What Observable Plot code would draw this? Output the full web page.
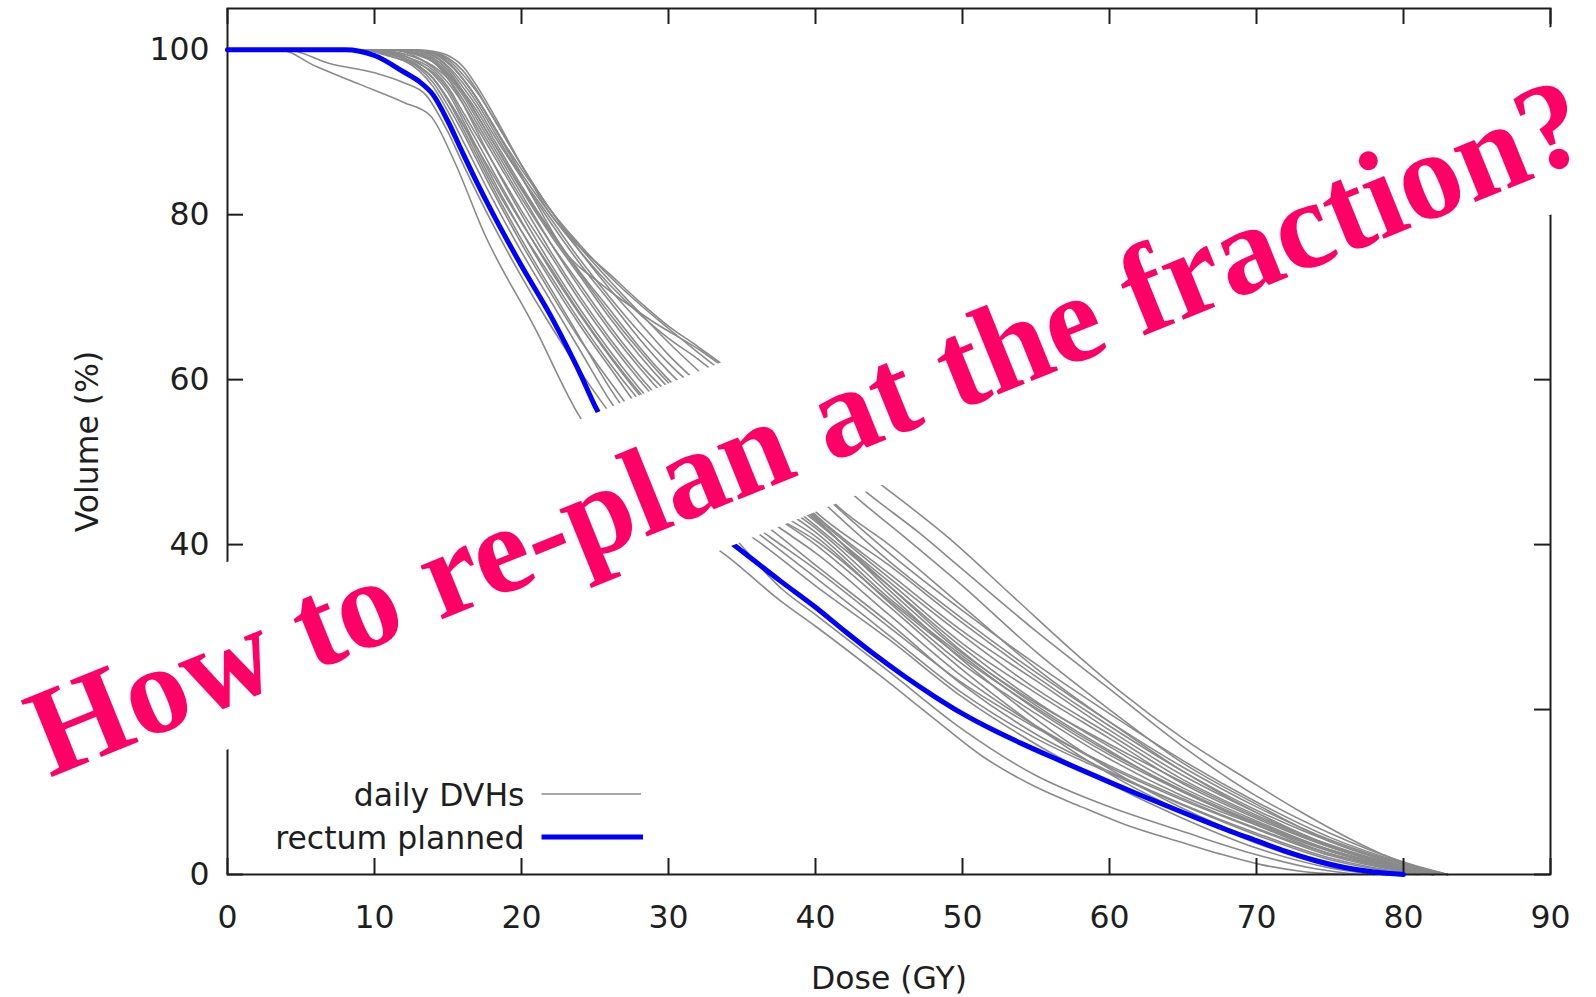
<!DOCTYPE html>
<html>
<head>
<meta charset="utf-8">
<script src="https://cdn.jsdelivr.net/npm/d3@7"></script>
<script src="https://cdn.jsdelivr.net/npm/@observablehq/plot@0.6"></script>
<style>
  html, body { margin: 0; padding: 0; background: #ffffff; overflow: hidden; }
  #chart { width: 1596px; height: 997px; }
</style>
</head>
<body>
<div id="chart"></div>
<script>
// ---------- data ----------
const xTicks = [0, 10, 20, 30, 40, 50, 60, 70, 80, 90];
const yTicks = [0, 20, 40, 60, 80, 100];
const xLabel = "Dose (GY)";
const yLabel = "Volume (%)";
const legendLabels = ["daily DVHs", "rectum planned"];
const annotationText = ["How to re-plan at the fraction?"];

// planned rectum DVH: [dose (Gy), volume (%)]
const planned = [[0,100],[8,100],[10,99.3],[12,97.3],[13,96.2],[14,94.5],[15,91.3],[16,87.5],[17,83.8],[18,80.3],[20,73.8],[22,67.7],[23,64.3],[24,60.7],[25,56.8],[27,51],[30,46],[34.5,39.9],[37.6,35.6],[40,32.4],[42,29.5],[44,26.7],[46,24.1],[48,21.7],[50,19.5],[52,17.6],[54,15.9],[56,14.3],[58,12.75],[60,11.2],[62,9.7],[64,8.25],[66,6.8],[68,5.4],[70,4.1],[72,2.8],[74,1.7],[76,0.85],[78,0.3],[80,0]];

// daily DVHs: [dose (Gy), volume (%)]
const day01 = [[0,100],[3.5,100],[6,98],[9,95.8],[12,93.6],[13.8,92],[15.4,86.6],[17.5,77.6],[20.9,66.3],[24,55.4],[27,49],[31,42.5],[34.2,38.3],[37.6,33.2],[40,30.1],[44.4,24.1],[48,19],[51.3,14.4],[55,10.6],[58.1,8.2],[61,6.1],[64.9,3.9],[67.5,2.5],[70.3,1.2],[73,0.4],[76,0]];
const day02 = [[0,100],[4,100],[7,98.3],[10,97.2],[12,96],[13.5,94.5],[15,90],[16,86.2],[18,79],[20,72.5],[22,66.5],[24,61],[26,56],[29,50.5],[32,45.5],[34.5,40.8],[37.6,34.8],[40,31.5],[45,24.6],[50,17.6],[55,12.0],[60,8.2],[65,5.2],[70,2.4],[74,0.7],[77,0]];
const day03 = [[0,100],[9,100],[11,99.3],[13,97.5],[14,95.5],[15,92.5],[16,89],[17,85.5],[18,82],[20,75.5],[22,69.5],[24,63.5],[26,57.5],[28,52.5],[30,48.5],[33,44],[36,40.5],[40,35],[45,28.5],[50,21.5],[55,15.8],[60,11],[65,6.8],[70,3.2],[75,0.8],[78,0]];
const day04 = [[0,100],[9,100],[11,99.5],[13,98],[14,96.5],[15,93.8],[16,90.5],[17,87],[18,83.5],[20,77],[22,71],[24,65],[26,59],[28,54],[30,50],[33,45.5],[36.3,41.1],[40,36],[45,29],[50,22],[55,16.5],[60,12.3],[65,8.4],[70,4.8],[75,1.8],[80,0.2],[81,0]];
const day05 = [[0,100],[10,100],[12,99.3],[14,97],[15,94.8],[16,91.5],[17,88],[18,84.5],[20,78],[22,72],[24,66.5],[26,61.5],[28,56.5],[30,52],[33,47],[37.2,41.5],[40,37.5],[45,30.5],[50,23],[55,17],[60,12.5],[65,8.5],[70,5],[75,2],[80,0.3],[82,0]];
const day06 = [[0,100],[10,100],[12,99],[14,96.5],[15,94],[16,91],[17,87.5],[18,84],[20,78],[22,72.5],[24,67],[26,62],[28,57.5],[30,53.5],[33,48.5],[36,44],[38,41.5],[40,39],[45,31.5],[50,24],[55,18],[60,13],[65,9],[70,5.5],[75,2.3],[80,0.4],[82,0]];
const day07 = [[0,100],[9,100],[11,99.5],[13,98],[14,96.5],[15,94],[16,91],[17,88],[18,85],[20,79],[22,73.5],[24,68],[26,63],[28,58.5],[30,54.5],[33,49.5],[36,45],[40,40],[45,32.5],[50,24.8],[55,18],[60,12.2],[65,7.6],[70,3.8],[75,1.0],[78,0]];
const day08 = [[0,100],[11,100],[13,99.3],[14,98.5],[15,96.5],[16,93.5],[17,90],[18,86.5],[20,80],[22,74],[24,68.5],[26,63.5],[28,59],[30,55],[33,50],[36,45.5],[40,41],[45,33],[50,25.5],[55,19.5],[60,14],[65,9.5],[70,6],[75,2.8],[80,0.6],[83,0]];
const day09 = [[0,100],[10,100],[12,99.2],[14,97.5],[15,95.5],[16,92.5],[17,89.5],[18,86.5],[20,80.5],[22,75],[24,69.5],[26,64.5],[28,60],[30,56],[33,51],[36,46.5],[40,41.5],[45,33.5],[50,26.5],[55,20],[60,14.5],[65,10],[70,6],[75,2.5],[80,0.5],[82,0]];
const day10 = [[0,100],[11,100],[13,99],[14,97.8],[15,96],[16,93.5],[17,90.5],[18,87.5],[20,81.5],[22,75.5],[24,70],[26,65],[28,60.5],[30,56.5],[33,51.5],[36,47],[40,42],[45,34],[50,26],[55,18.8],[60,12.8],[65,8],[70,4.2],[75,1.3],[79,0]];
const day11 = [[0,100],[11,100],[13,99.5],[14,98.5],[15,96.8],[16,94.5],[17,91.5],[18,88.5],[20,82.5],[22,76.5],[24,71],[26,66],[28,61.5],[30,57.5],[33,52.5],[36,48],[40,42.3],[45,35],[50,27.5],[55,21],[60,15.5],[65,10.5],[70,6.5],[75,3],[80,0.8],[83,0]];
const day12 = [[0,100],[10,100],[12,99.5],[14,98],[15,96.5],[16,94],[17,91],[18,88],[20,82],[22,76.5],[24,71.5],[26,66.5],[28,62],[30,58.3],[33,53.5],[36,48.5],[40,42.8],[45,35.5],[50,28],[55,22],[60,16.5],[65,11],[70,6.8],[75,3.3],[80,0.8],[83,0]];
const day13 = [[0,100],[11,100],[13,99.6],[14,99],[15,97.5],[16,95],[17,92],[18,89],[20,83],[22,77.5],[24,72.5],[26,67.5],[28,63],[30,59],[33,54],[36,49],[40,43],[45,35],[50,27],[55,20.5],[60,15],[65,10],[70,6.2],[75,3],[80,0.7],[82,0]];
const day14 = [[0,100],[11,100],[13,99.5],[14,98.8],[15,97.2],[16,95],[17,92.5],[18,89.5],[20,83.5],[22,78],[24,73],[26,68.5],[28,64],[30,60],[33,55],[36,50],[40,43.4],[45,36],[50,29],[55,22.5],[60,17],[65,11.5],[70,7.2],[75,3.6],[80,1],[83,0]];
const day15 = [[0,100],[12,100],[14,99.3],[15,98],[16,96],[17,93.5],[18,90.5],[20,84.5],[22,79],[24,74],[26,69.5],[28,65],[30,61],[33,56],[36,51],[40,43.6],[45,36.5],[50,29.5],[55,23.5],[60,17.5],[65,12],[70,7.5],[75,3.5],[80,0.9],[82,0]];
const day16 = [[0,100],[12,100],[14,99.2],[15,97.8],[16,95.5],[17,93],[18,90],[20,84.5],[22,79.5],[24,74.5],[26,70],[28,65.8],[30,62],[33,57],[36,51.5],[40,44],[45,37.5],[50,30.5],[55,24],[60,18],[65,12.5],[70,7.8],[75,4],[80,1.2],[83,0]];
const day17 = [[0,100],[12,100],[14,99.5],[15,98.5],[16,96.5],[17,94],[18,91],[20,85.5],[22,80.5],[24,75.5],[26,71],[28,67],[30,63],[33,58],[36,53],[40,46],[45,38],[50,31],[55,24.5],[60,18.5],[65,13],[70,8.2],[75,4.2],[80,1.3],[83,0]];
const day18 = [[0,100],[12,100],[14,99.6],[15,98.8],[16,97],[17,94.8],[18,92],[20,86],[22,80.5],[24,76],[26,72],[28,68.2],[30,64.5],[33,59.5],[36,54.5],[40,47],[45,39],[50,32],[55,25.5],[60,19.5],[65,13.8],[70,8.8],[75,4.5],[80,1.4],[83,0]];
const day19 = [[0,100],[12,100],[14,99.6],[15,98.5],[16,96.5],[17,94],[18,91],[20,85],[22,80],[24,75.5],[26,71.5],[28,68],[30,65],[32,62.5],[35,58],[38,52],[41.3,45],[45,40],[50,32.5],[55,25],[60,18.5],[65,12.5],[70,7.5],[75,3.5],[80,0.8],[82,0]];
const day20 = [[0,100],[12,100],[14,99.7],[15,99],[16,97.5],[17,95],[18,92],[20,86],[22,80.5],[24,76.3],[26,72.5],[28,69.2],[30,66.2],[32,63.3],[35,59],[38,54],[42.6,46],[46,41],[50,35],[55,27],[60,20],[65,13.5],[70,8.5],[75,4],[80,1],[82,0]];
const day21 = [[0,100],[13,100],[14,99.8],[15,99.3],[16,98],[17,95.5],[18,92.5],[20,86],[22,80],[24,76],[26,72.8],[28,69.5],[30,66.5],[32,64],[35,60],[38,55],[43.5,46.3],[47,41.5],[50,37],[55,29.5],[60,22.5],[65,15.5],[70,9.5],[75,5],[80,1.5],[83,0]];
const day22 = [[0,100],[12,100],[14,99.5],[15.4,97.7],[17,94],[18.6,89.3],[20.9,81.7],[23.1,75.2],[25.4,71.6],[28.8,67.2],[32.2,63.5],[36,58.5],[40,53],[44.5,47.2],[49,40.9],[53.5,33.6],[58,26.3],[61,21.8],[65,16.5],[69.5,11.4],[73,7.6],[78.5,2.5],[82,0.3],[83,0]];
const day23 = [[0,100],[10,100],[12,99],[14,97.2],[15,95.2],[16,92],[17,88.8],[18,85.5],[20,79.2],[22,73.2],[24,67.8],[26,62.8],[28,58.2],[30,54.2],[33,49.2],[36,44.8],[40,40.5],[45,33.2],[50,26.2],[55,20.2],[60,14.8],[65,10.2],[70,6.3],[75,2.9],[80,0.6],[82,0]];
const day24 = [[0,100],[11,100],[13,99.4],[14,98.6],[15,97],[16,94.8],[17,92],[18,89],[20,83.2],[22,77.8],[24,72.8],[26,68],[28,63.6],[30,59.6],[33,54.5],[36,49.5],[40,43.2],[45,34.5],[50,26.8],[55,20.8],[60,15.8],[65,11.2],[70,7],[75,3.4],[80,0.9],[83,0]];
const day25 = [[0,100],[9,100],[11,99.2],[13,97.8],[14,96],[15,93.2],[16,90],[17,86.5],[18,83],[20,76.5],[22,70.5],[24,64.8],[26,59.8],[28,55],[30,51],[33,46],[37,40.8],[40,37],[45,30],[50,23.2],[55,17.8],[60,13.2],[65,9.2],[70,5.6],[75,2.5],[80,0.5],[81,0]];

const dailyDVHs = [day01, day02, day03, day04, day05, day06, day07, day08, day09, day10,
  day11, day12, day13, day14, day15, day16, day17, day18, day19, day20, day21, day22, day23, day24, day25];

// tidy rows for Plot
const dailyRows = dailyDVHs.flatMap((curve, i) => curve.map(([dose, volume]) => ({fraction: i + 1, dose, volume})));
const plannedRows = planned.map(([dose, volume]) => ({dose, volume}));

// ---------- layout / style ----------
const W = 1596, H = 997;
const mL = 227, mR = 46, mT = 8, mB = 123;
const FW = W - mL - mR, FH = H - mT - mB;
const TICK = 16;
const INK = "#1e1e1e";
const GRAY = "#8a8a8a";
const BLUE = "#0000ff";
const FS = 31.5;
const SANS = "DejaVu Sans";
const PINK = "#ff0066";
// annotation anchor (text centre on baseline), relative to frame top-left
const ANN_DX = 595, ANN_DY = 457, ANN_ROT = -22, ANN_FS = 126;

const plot = Plot.plot({
  width: W,
  height: H,
  marginLeft: mL,
  marginRight: mR,
  marginTop: mT,
  marginBottom: mB,
  style: {fontFamily: SANS, background: "#ffffff", color: INK, overflow: "visible"},
  x: {domain: [0, 90]},
  y: {domain: [0, 105]},
  marks: [
    Plot.line(dailyRows, {x: "dose", y: "volume", z: "fraction", stroke: GRAY, strokeWidth: 1.6, curve: "monotone-x"}),
    Plot.frame({stroke: INK, strokeWidth: 2}),
    // gnuplot-style inward ticks on all four sides
    Plot.ruleX(xTicks, {x: d => d, insetTop: FH - TICK, stroke: INK, strokeWidth: 2}),
    Plot.ruleX(xTicks, {x: d => d, insetBottom: FH - TICK, stroke: INK, strokeWidth: 2}),
    Plot.ruleY(yTicks, {y: d => d, insetRight: FW - TICK, stroke: INK, strokeWidth: 2}),
    Plot.ruleY(yTicks, {y: d => d, insetLeft: FW - TICK, stroke: INK, strokeWidth: 2}),
    Plot.axisX(xTicks, {anchor: "bottom", tickSize: 0, tickPadding: 31, fontSize: FS, label: null, tickFormat: d => String(d)}),
    Plot.axisY(yTicks, {anchor: "left", tickSize: 0, tickPadding: 18, fontSize: FS, label: null, tickFormat: d => String(d)}),
    Plot.text([xLabel], {text: d => d, frameAnchor: "bottom", dy: 114, textAnchor: "middle", lineAnchor: "bottom", fontSize: FS, fill: INK}),
    Plot.text([yLabel], {text: d => d, frameAnchor: "left", dx: -130, rotate: -90, textAnchor: "middle", lineAnchor: "bottom", fontSize: FS, fill: INK}),
    Plot.text([legendLabels[0]], {text: d => d, frameAnchor: "bottom-left", dx: 297, dy: -68.5, textAnchor: "end", lineAnchor: "bottom", fontSize: FS, fill: INK}),
    Plot.text([legendLabels[1]], {text: d => d, frameAnchor: "bottom-left", dx: 297, dy: -25.5, textAnchor: "end", lineAnchor: "bottom", fontSize: FS, fill: INK}),
    Plot.line(plannedRows, {x: "dose", y: "volume", stroke: BLUE, strokeWidth: 5, curve: "monotone-x"}),
    Plot.text(annotationText, {text: d => d, frameAnchor: "top-left", dx: ANN_DX, dy: ANN_DY, rotate: ANN_ROT,
      textAnchor: "middle", lineAnchor: "bottom", fontSize: ANN_FS, fontFamily: "'Liberation Serif', 'Times New Roman', serif", fontWeight: "bold", fill: PINK})
  ]
});

document.getElementById("chart").appendChild(plot);

// ---------- legend samples and annotation band ----------
const svg = d3.select(plot);
const legend = svg.append("g").attr("class", "legend-samples");
legend.append("line")
  .attr("x1", mL + 314.5).attr("x2", mL + 414)
  .attr("y1", mT + FH - 80).attr("y2", mT + FH - 80)
  .attr("stroke", GRAY).attr("stroke-width", 1.6);
legend.append("line")
  .attr("x1", mL + 314.5).attr("x2", mL + 416)
  .attr("y1", mT + FH - 37).attr("y2", mT + FH - 37)
  .attr("stroke", BLUE).attr("stroke-width", 5);

// white band behind the rotated annotation (hides everything beneath it)
const textGroups = plot.querySelectorAll('g[aria-label="text"]');
const annGroup = textGroups[textGroups.length - 1];
const band = document.createElementNS("http://www.w3.org/2000/svg", "g");
band.setAttribute("transform", `translate(${mL + ANN_DX},${mT + ANN_DY}) rotate(${ANN_ROT})`);
const rect = document.createElementNS("http://www.w3.org/2000/svg", "rect");
rect.setAttribute("x", -880);
rect.setAttribute("y", -133);
rect.setAttribute("width", 1760);
rect.setAttribute("height", 174);
rect.setAttribute("fill", "#ffffff");
band.appendChild(rect);
annGroup.parentNode.insertBefore(band, annGroup);
annGroup.parentNode.insertBefore(legend.node(), band);
</script>
</body>
</html>
